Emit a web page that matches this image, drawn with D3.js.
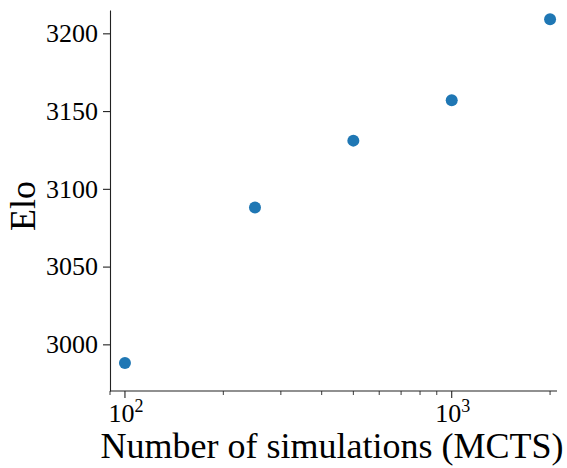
<!DOCTYPE html>
<html><head><meta charset="utf-8">
<script src="https://cdn.jsdelivr.net/npm/d3@7"></script>
<style>body{margin:0;background:#fff}svg{display:block}</style>
</head><body>
<svg id="c" width="567" height="468"></svg>
<script>
const simulations = [100, 250, 500, 1000, 2000];
const elo = [2988, 3088, 3131, 3157, 3209];
const yTicks = [3000, 3050, 3100, 3150, 3200];
const xMajorTicks = [100, 1000];
const xMinorTicks = [90, 200, 300, 400, 500, 600, 700, 800, 900, 2000];

const svg = d3.select("#c");
const x = d3.scaleLog().domain([90, 2100]).range([110, 557]);
const y = d3.scaleLinear().domain([2970, 3215]).range([391, 10]);
const FONT = '"Liberation Serif", serif';

// y axis
const yAxis = svg.append("g").attr("transform", "translate(110,0)")
  .call(d3.axisLeft(y).tickValues(yTicks).tickSize(7).tickPadding(5).tickSizeOuter(0).tickFormat(d3.format("d")));
yAxis.select(".domain").attr("stroke", "#222").attr("stroke-width", 1.1);
yAxis.selectAll(".tick line").attr("stroke", "#222").attr("stroke-width", 1.1);
yAxis.selectAll(".tick text").style("font-family", FONT).style("font-size", "26px").attr("fill", "#000");

// x axis
const xg = svg.append("g").attr("transform", "translate(0,391)");
xg.append("line").attr("x1", 110).attr("x2", 557).attr("stroke", "#222").attr("stroke-width", 1.1);
xg.selectAll(".minor").data(xMinorTicks).join("line")
  .attr("x1", d => x(d)).attr("x2", d => x(d)).attr("y1", 0).attr("y2", 4)
  .attr("stroke", "#222").attr("stroke-width", 0.9);
xg.selectAll(".major").data(xMajorTicks).join("line")
  .attr("x1", d => x(d)).attr("x2", d => x(d)).attr("y1", 0).attr("y2", 7)
  .attr("stroke", "#222").attr("stroke-width", 1.1);
const lab = xg.selectAll(".lab").data(xMajorTicks).join("text")
  .attr("x", d => x(d) + 1).attr("y", 31).attr("text-anchor", "middle")
  .style("font-family", FONT).style("font-size", "26px");
lab.append("tspan").text("10");
lab.append("tspan").attr("dy", -10).style("font-size", "18px").text(d => Math.round(Math.log10(d)));

// points
svg.selectAll("circle").data(simulations).join("circle")
  .attr("cx", d => x(d)).attr("cy", (d, i) => y(elo[i])).attr("r", 6)
  .attr("fill", "#1f77b4");

// labels
svg.append("text").attr("x", 332).attr("y", 458).attr("text-anchor", "middle")
  .style("font-family", FONT).style("font-size", "36px").text("Number of simulations (MCTS)");
svg.append("text").attr("transform", "translate(35,206) rotate(-90)").attr("text-anchor", "middle")
  .style("font-family", FONT).style("font-size", "36px").text("Elo");
</script>
</body></html>
